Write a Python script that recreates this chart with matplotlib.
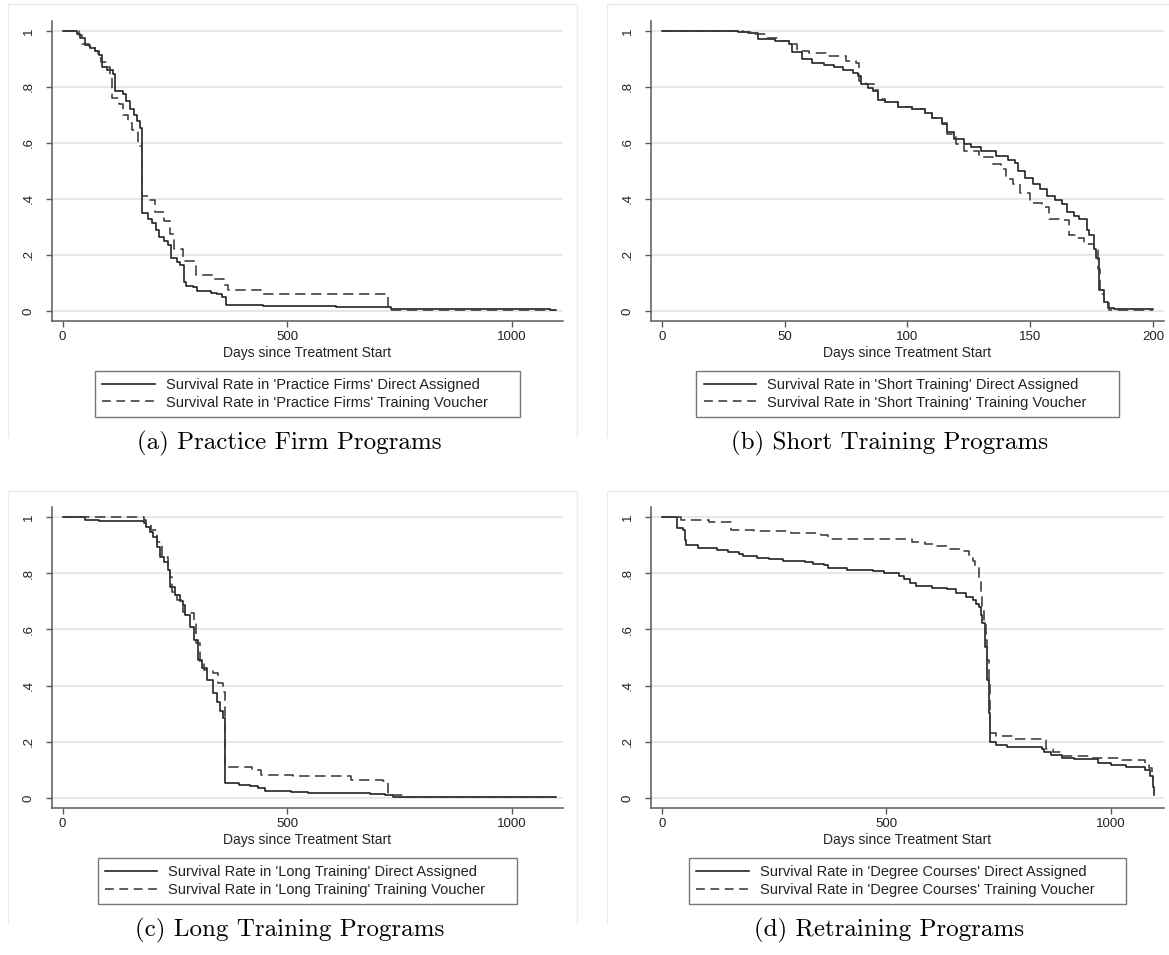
import matplotlib
matplotlib.use("Agg")
import matplotlib.pyplot as plt
from matplotlib.lines import Line2D

W, H = 1169, 955

SOLID = "#1a1a1a"
DASHED = "#3a3a3a"
GRID = "#e8e8e8"
AXIS = "#5a5a5a"
FRAME = "#ececec"

Y_TICKS = [0, 0.2, 0.4, 0.6, 0.8, 1.0]
Y_TICK_LABELS = ["0", ".2", ".4", ".6", ".8", "1"]

# (a) Practice firms
A_DA_DAYS = [0, 32, 40, 50, 62, 72, 82, 88, 100, 112, 118, 135, 142, 150, 160, 166, 172, 176,
             178, 190, 200, 208, 214, 225, 236, 242, 255, 262, 270, 276, 290, 300, 330, 345,
             355, 364, 447, 610, 731, 1085, 1100]
A_DA_SURV = [1.0, 0.99, 0.975, 0.95, 0.94, 0.93, 0.915, 0.87, 0.86, 0.845, 0.785, 0.775, 0.75,
             0.72, 0.70, 0.68, 0.655, 0.63, 0.35, 0.33, 0.315, 0.29, 0.265, 0.25, 0.235, 0.19,
             0.175, 0.165, 0.105, 0.09, 0.085, 0.07, 0.065, 0.06, 0.05, 0.02, 0.017, 0.013,
             0.008, 0.005, 0.005]
A_TV_DAYS = [0, 36, 44, 60, 72, 80, 86, 100, 105, 110, 125, 135, 145, 155, 168, 172, 177, 192,
             206, 225, 240, 248, 268, 298, 335, 360, 368, 447, 724, 1100]
A_TV_SURV = [1.0, 0.985, 0.955, 0.945, 0.93, 0.905, 0.89, 0.87, 0.84, 0.76, 0.74, 0.70, 0.67,
             0.645, 0.60, 0.59, 0.41, 0.395, 0.355, 0.32, 0.275, 0.22, 0.178, 0.128, 0.116,
             0.093, 0.075, 0.06, 0.004, 0.002]

# (b) Short training
B_DA_DAYS = [0, 31, 35, 39, 46, 52, 53, 57, 61, 66, 70, 74, 78, 80, 81, 84, 86, 88, 91, 96, 102,
             107, 110, 114, 116, 119, 123, 126, 130, 136, 141, 144, 145, 148, 151, 154, 157, 160,
             163, 165, 168, 170, 173, 174, 175.8, 177, 178, 180, 181.5, 184, 200]
B_DA_SURV = [1.0, 0.998, 0.994, 0.97, 0.964, 0.953, 0.925, 0.90, 0.887, 0.88, 0.87, 0.86, 0.85,
             0.84, 0.81, 0.795, 0.785, 0.755, 0.745, 0.728, 0.72, 0.706, 0.69, 0.668, 0.638,
             0.615, 0.597, 0.585, 0.573, 0.555, 0.54, 0.53, 0.50, 0.475, 0.455, 0.437, 0.41,
             0.395, 0.383, 0.353, 0.34, 0.33, 0.29, 0.27, 0.223, 0.19, 0.075, 0.033, 0.01,
             0.006, 0.006]
B_TV_DAYS = [0, 33, 38, 43, 47, 52, 55, 60, 67, 75, 79, 80.5, 83, 86.5, 88, 91, 96, 102, 107,
             110, 114, 116, 120, 123, 129, 135, 138, 140, 143, 146, 150, 155, 157.5, 162, 166,
             169, 172, 176, 177.5, 178.5, 180, 182, 200]
B_TV_SURV = [1.0, 0.995, 0.988, 0.976, 0.964, 0.953, 0.93, 0.923, 0.911, 0.893, 0.887, 0.822,
             0.81, 0.79, 0.757, 0.745, 0.73, 0.72, 0.708, 0.69, 0.67, 0.632, 0.597, 0.573, 0.55,
             0.526, 0.508, 0.472, 0.454, 0.42, 0.385, 0.371, 0.33, 0.324, 0.27, 0.262, 0.241,
             0.217, 0.15, 0.06, 0.027, 0.003, 0.003]

# (c) Long training
C_DA_DAYS = [0, 50, 81, 181, 186, 195, 202, 210, 218, 226, 235, 239, 251, 262, 268, 272, 285,
             293, 301, 310, 322, 335, 343, 351, 358, 362, 393, 418, 435, 451, 510, 547, 685,
             718, 735, 768, 1100]
C_DA_SURV = [1.0, 0.988, 0.985, 0.979, 0.964, 0.945, 0.929, 0.893, 0.858, 0.84, 0.81, 0.751,
             0.722, 0.70, 0.686, 0.651, 0.609, 0.562, 0.491, 0.462, 0.42, 0.373, 0.343, 0.308,
             0.284, 0.053, 0.047, 0.044, 0.036, 0.024, 0.02, 0.017, 0.014, 0.012, 0.005,
             0.003, 0.003]
C_TV_DAYS = [0, 181, 186, 198, 210, 222, 235, 239, 243, 255, 268, 281, 293, 297, 306, 315, 335,
             347, 358, 362, 422, 443, 514, 643, 714, 726, 764, 1100]
C_TV_SURV = [1.0, 0.99, 0.976, 0.953, 0.911, 0.858, 0.817, 0.787, 0.734, 0.704, 0.663, 0.657,
             0.627, 0.55, 0.479, 0.456, 0.444, 0.408, 0.379, 0.112, 0.10, 0.083, 0.077, 0.065,
             0.059, 0.012, 0.004, 0.003]

# (d) Retraining / degree courses
D_DA_DAYS = [0, 35, 47, 51, 53, 80, 122, 147, 171, 180, 213, 238, 271, 320, 337, 362, 370, 412,
             470, 494, 528, 540, 552, 565, 602, 635, 656, 677, 693, 700, 706, 710, 714, 720,
             725, 728, 731, 743, 768, 847, 850, 867, 892, 917, 971, 1000, 1033, 1075, 1087,
             1093, 1095]
D_DA_SURV = [1.0, 0.96, 0.953, 0.917, 0.90, 0.888, 0.882, 0.876, 0.87, 0.86, 0.855, 0.849,
             0.843, 0.84, 0.831, 0.828, 0.817, 0.811, 0.808, 0.799, 0.79, 0.78, 0.765, 0.754,
             0.749, 0.742, 0.728, 0.716, 0.704, 0.69, 0.68, 0.65, 0.621, 0.538, 0.42, 0.302,
             0.201, 0.189, 0.183, 0.176, 0.162, 0.154, 0.144, 0.138, 0.124, 0.118, 0.112, 0.10,
             0.077, 0.04, 0.012]
D_TV_DAYS = [0, 43, 105, 155, 205, 287, 354, 370, 536, 557, 586, 611, 635, 668, 685, 693, 698,
             706, 710, 714, 718, 722, 725, 728, 731, 743, 785, 847, 855, 870, 892, 958, 1025,
             1075, 1085, 1091, 1093]
D_TV_SURV = [1.0, 0.99, 0.982, 0.955, 0.95, 0.943, 0.935, 0.923, 0.92, 0.911, 0.905, 0.897,
             0.885, 0.878, 0.864, 0.845, 0.822, 0.775, 0.73, 0.68, 0.62, 0.562, 0.49, 0.42,
             0.233, 0.219, 0.209, 0.205, 0.174, 0.165, 0.15, 0.144, 0.136, 0.118, 0.105, 0.089,
             0.06]

PANELS = [
    # caption, program name, data, x ticks, pixel box (left, top, right, bottom), xlim, frame
    ("(a) Practice Firm Programs", "Practice Firms",
     (A_DA_DAYS, A_DA_SURV, A_TV_DAYS, A_TV_SURV), [0, 500, 1000],
     (52, 21, 563, 321), (-23.4, 1114.7), (8, 4, 577, 437)),
    ("(b) Short Training Programs", "Short Training",
     (B_DA_DAYS, B_DA_SURV, B_TV_DAYS, B_TV_SURV), [0, 50, 100, 150, 200],
     (651, 21, 1164, 321), (-4.36, 204.5), (607, 4, 1175, 437)),
    ("(c) Long Training Programs", "Long Training",
     (C_DA_DAYS, C_DA_SURV, C_TV_DAYS, C_TV_SURV), [0, 500, 1000],
     (52, 507, 563, 808), (-23.4, 1114.7), (8, 491, 577, 924)),
    ("(d) Retraining Programs", "Degree Courses",
     (D_DA_DAYS, D_DA_SURV, D_TV_DAYS, D_TV_SURV), [0, 500, 1000],
     (651, 507, 1164, 808), (-23.8, 1118), (607, 491, 1175, 924)),
]

DASH = (6.5, 3.5)


def fx(px):
    return px / W


def fy(py):
    return 1 - py / H


def draw_panel(fig, caption, name, data, xticks, box, xlim, frame):
    left, top, right, bottom = box
    ax = fig.add_axes([fx(left), fy(bottom), fx(right) - fx(left), fy(top) - fy(bottom)])

    da_d, da_s, tv_d, tv_s = data
    ax.plot(da_d, da_s, drawstyle="steps-post", color=SOLID, lw=1.15, zorder=3)
    ax.plot(tv_d, tv_s, drawstyle="steps-post", color=DASHED, lw=1.15,
            dashes=DASH, zorder=3)

    ax.set_xlim(*xlim)
    # 1 and 0 sit ~10px inside the axis ends
    pad = 10 / ((bottom - top) - 20)
    ax.set_ylim(-pad, 1 + pad)

    ax.set_yticks(Y_TICKS)
    ax.set_yticklabels(Y_TICK_LABELS, rotation=90, va="center")
    ax.set_xticks(xticks)
    ax.set_xticklabels([str(t) for t in xticks])

    ax.grid(axis="y", color=GRID, lw=1.5, zorder=0)
    ax.grid(axis="x", visible=False)
    ax.set_axisbelow(True)

    for s in ["top", "right"]:
        ax.spines[s].set_visible(False)
    for s in ["left", "bottom"]:
        ax.spines[s].set_color(AXIS)
        ax.spines[s].set_linewidth(1.1)

    ax.tick_params(axis="both", colors=AXIS, length=4.5, width=1.0, labelsize=9.5,
                   labelcolor="#222222")
    ax.tick_params(axis="y", pad=8)
    ax.tick_params(axis="x", pad=2.5)

    cx = (left + right) / 2
    fig.text(fx(cx), fy(bottom + 32), "Days since Treatment Start", ha="center",
             va="center", fontsize=10, color="#222222")

    handles = [
        Line2D([], [], color=SOLID, lw=1.15),
        Line2D([], [], color=DASHED, lw=1.15, dashes=(5.5, 3.5)),
    ]
    # trailing spaces widen the box on the right like the Stata legend
    labels = [
        f"Survival Rate in '{name}' Direct Assigned      ",
        f"Survival Rate in '{name}' Training Voucher      ",
    ]
    leg = fig.legend(handles, labels, loc="center",
                     bbox_to_anchor=(fx(cx), fy(bottom + 73)),
                     fontsize=10.5, frameon=True, fancybox=False, handlelength=3.6,
                     handletextpad=0.75, labelspacing=0.22, borderpad=0.5,
                     borderaxespad=0)
    leg.get_frame().set_edgecolor("#555555")
    leg.get_frame().set_linewidth(1.0)
    for t in leg.get_texts():
        t.set_color("#222222")

    fig.text(fx(cx - 18), fy(bottom + 122), caption, ha="center", va="center",
             fontsize=18, family="cmr10", color="black")

    # faint outer frame of each graph region
    fl, ft, fr, fb = frame
    fig.add_artist(Line2D([fx(fl), fx(fl), fx(fr), fx(fr)], [fy(fb), fy(ft), fy(ft), fy(fb)],
                          transform=fig.transFigure, color=FRAME, lw=1.0))


def main():
    plt.rcParams["font.family"] = ["Liberation Sans", "DejaVu Sans"]
    fig = plt.figure(figsize=(W / 100, H / 100), dpi=100)
    fig.patch.set_facecolor("white")

    for caption, name, data, xticks, box, xlim, frame in PANELS:
        draw_panel(fig, caption, name, data, xticks, box, xlim, frame)

    fig.savefig("out.png", dpi=100)
    plt.close(fig)


if __name__ == "__main__":
    main()
